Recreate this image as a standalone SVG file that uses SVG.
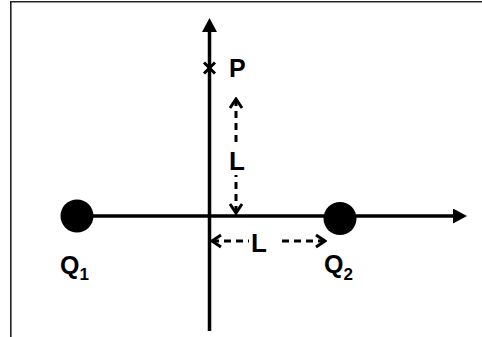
<svg xmlns="http://www.w3.org/2000/svg" width="482" height="337" viewBox="0 0 482 337">
  <style>
    .lbl { font-family: "Liberation Sans", Arial, sans-serif; font-weight: bold; fill: #000; }
    .axis { stroke: #000; stroke-width: 3.5; fill: none; }
    .dash { stroke: #000; stroke-width: 3; fill: none; stroke-dasharray: 7 5; }
    .frame { stroke: #222; stroke-width: 1.6; fill: none; }
  </style>
  <defs>
    <marker id="tri" markerUnits="userSpaceOnUse" viewBox="0 0 14 15" markerWidth="14" markerHeight="15" refX="0" refY="7.5" orient="auto">
      <path d="M0,0 L14,7.5 L0,15 Z" fill="#000"/>
    </marker>
    <marker id="chev" markerUnits="userSpaceOnUse" viewBox="-12 -8 14 16" markerWidth="14" markerHeight="16" refX="0" refY="0" orient="auto-start-reverse">
      <path d="M-9,-6 L0,0 L-9,6" fill="none" stroke="#000" stroke-width="3" stroke-linejoin="miter"/>
    </marker>
  </defs>
  <rect width="482" height="337" fill="#fff"/>
  <path class="frame" d="M10.8,337 L10.8,1.8 L482,1.8"/>

  <g id="connectors">
    <line id="y-axis" class="axis" x1="209.5" y1="331" x2="209.5" y2="32" marker-end="url(#tri)"/>
    <line id="x-axis" class="axis" x1="77" y1="216" x2="453" y2="216" stroke-width="3" marker-end="url(#tri)"/>
    <line id="dim-v-top" class="dash" x1="236" y1="99" x2="236" y2="143" marker-start="url(#chev)"/>
    <line id="dim-v-bot" class="dash" x1="236" y1="213" x2="236" y2="175" marker-start="url(#chev)"/>
    <line id="dim-h-left" class="dash" x1="212" y1="241" x2="249" y2="241" marker-start="url(#chev)"/>
    <line id="dim-h-right" class="dash" x1="325" y1="241" x2="280" y2="241" marker-start="url(#chev)"/>
  </g>

  <g id="Q1">
    <circle cx="77" cy="216" r="16.5" fill="#000"/>
    <text class="lbl" x="60" y="274" font-size="25">Q<tspan font-size="17" dy="6">1</tspan></text>
  </g>
  <g id="Q2">
    <circle cx="340" cy="218.5" r="16.5" fill="#000"/>
    <text class="lbl" x="324" y="273" font-size="25">Q<tspan font-size="17" dy="7">2</tspan></text>
  </g>
  <g id="P">
    <path d="M204,62.5 L215,73.5 M204,73.5 L215,62.5" stroke="#000" stroke-width="3" fill="none"/>
    <text class="lbl" x="229" y="77" font-size="25">P</text>
  </g>
  <g id="L-vertical">
    <text class="lbl" x="229" y="170" font-size="26">L</text>
  </g>
  <g id="L-horizontal">
    <text class="lbl" x="251" y="252" font-size="26">L</text>
  </g>
</svg>
